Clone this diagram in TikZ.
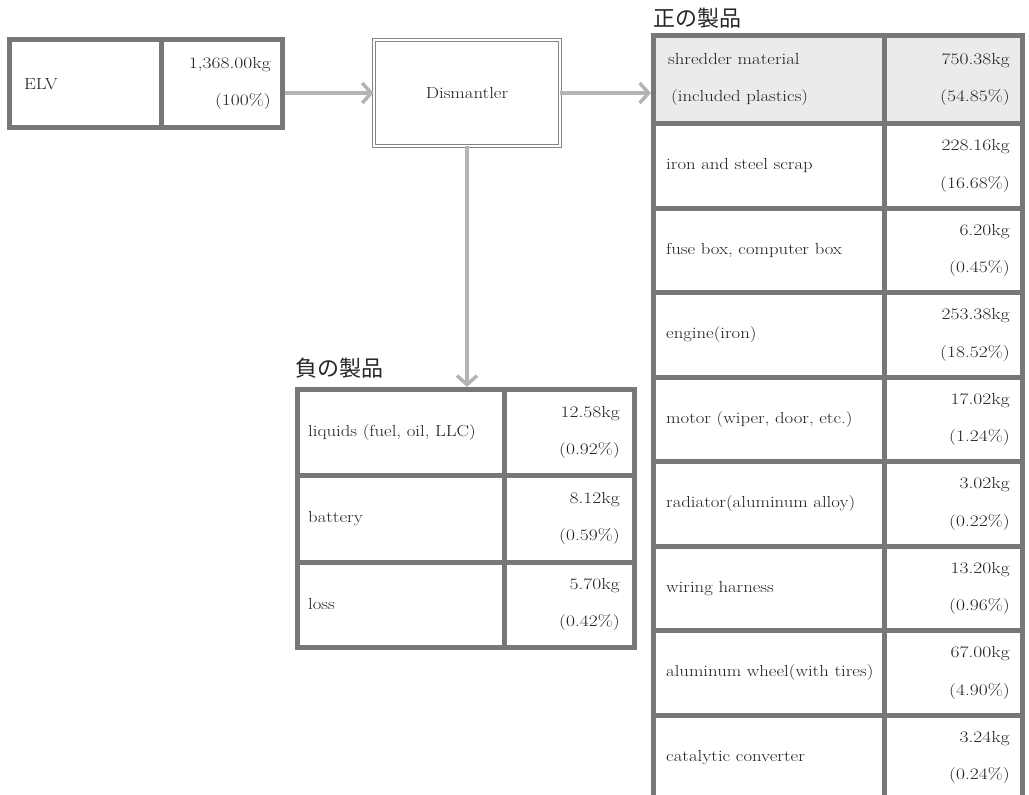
\documentclass[tikz,border=0pt]{standalone}
\usepackage{fontspec}
\setmainfont{Latin Modern Roman}[FakeStretch=1.17]
\newfontfamily\numfont{Latin Modern Roman}[FakeStretch=1.22]
\newfontfamily\jpfont{Noto Sans CJK JP}
\usetikzlibrary{arrows.meta}
\definecolor{bord}{HTML}{777777}
\definecolor{arrowc}{HTML}{B4B4B4}
\definecolor{shade}{HTML}{EBEBEB}
\definecolor{txt}{HTML}{1E1E1E}
\tikzset{
  cell/.style={draw=bord, line width=5pt, rectangle, inner sep=0pt},
  lab/.style={anchor=west, inner sep=0pt, font=\fontsize{16}{37.5}\selectfont, text=txt, align=left},
  val/.style={anchor=east, inner sep=0pt, font=\numfont\fontsize{16}{37.5}\selectfont, text=txt, align=right},
  flow/.style={draw=arrowc, line width=3.5pt, -{Straight Barb[length=9pt,width=20pt]}},
  ttl/.style={font=\jpfont\fontsize{22}{22}\selectfont, anchor=base west, inner sep=0pt, text=black!85},
  dbox/.style={draw=bord!90, line width=1.2pt, double=white, double distance=2pt, rectangle, inner sep=0pt,
    font=\fontsize{16}{18}\selectfont, text=txt}
}
\newcommand\mkcell[6]{\node[cell,#6,minimum width={#3-#2},minimum height={#5-#4}] (#1) at ({(#2+#3)/2},{(#4+#5)/2}) {};}
\begin{document}
\begin{tikzpicture}[x=1pt,y=-1pt]
\useasboundingbox (0,0) rectangle (1029,795);
% ELV
\mkcell{elvl}{9.5}{161}{39.5}{127}{}
\mkcell{elvv}{161}{282.5}{39.5}{127}{}
\node[lab] (elvt) at ([xshift=17pt,yshift=-1pt]elvl.west) {ELV};
\node[val] (elvn) at ([xshift=-14pt]elvv.east) {1,368.00kg\\(100\%)};
% Dismantler
\node[dbox, minimum width=185.6pt, minimum height=105.6pt] (dis) at (467,93) {Dismantler};
% positive products
\mkcell{p1l}{653.5}{884}{35.5}{123.5}{fill=shade}
\mkcell{p1v}{884}{1022.5}{35.5}{123.5}{fill=shade}
\node[lab] (p1t) at ([xshift=17pt]p1l.west) {shredder material\\\hspace*{3pt}(included plastics)};
\node[val] (p1n) at ([xshift=-15pt]p1v.east) {750.38kg\\(54.85\%)};
\foreach \i/\ya/\yb/\lbl/\kg/\pc in {
  2/123.5/208/{iron and steel scrap}/228.16kg/16.68,
  3/208/292.5/{fuse box, computer box}/6.20kg/0.45,
  4/292.5/377/{engine(iron)}/253.38kg/18.52,
  5/377/461.5/{motor (wiper, door, etc.)}/17.02kg/1.24,
  6/461.5/546/{radiator(aluminum alloy)}/3.02kg/0.22,
  7/546/630.5/{wiring harness}/13.20kg/0.96,
  8/630.5/715/{aluminum wheel(with tires)}/67.00kg/4.90,
  9/715/799.5/{catalytic converter}/3.24kg/0.24}{
  \mkcell{p\i l}{653.5}{884}{\ya}{\yb}{}
  \mkcell{p\i v}{884}{1022.5}{\ya}{\yb}{}
  \node[lab] (p\i t) at ([xshift=15pt]p\i l.west) {\lbl};
  \node[val] (p\i n) at ([xshift=-15pt]p\i v.east) {\kg\\(\pc\%)};
}
\node[ttl] (postitle) at (653,26) {正の製品};
% negative products
\foreach \i/\ya/\yb/\lbl/\kg/\pc in {
  1/389.5/475/{liquids (fuel, oil, LLC)}/12.58kg/0.92,
  2/475/562/{battery}/8.12kg/0.59,
  3/562/647/{loss}/5.70kg/0.42}{
  \mkcell{n\i l}{297.5}{504}{\ya}{\yb}{}
  \mkcell{n\i v}{504}{634.5}{\ya}{\yb}{}
  \node[lab] (n\i t) at ([xshift=13pt]n\i l.west) {\lbl};
  \node[val] (n\i n) at ([xshift=-17pt]n\i v.east) {\kg\\(\pc\%)};
}
\node[ttl] (negtitle) at (295,376) {負の製品};
% flows
\draw[flow] (elvv.east |- dis.center) -- (dis.west);
\draw[flow] (dis.east) -- (dis.east -| p1l.west);
\draw[flow] (dis.south) -- (dis.south |- n1l.north);
\end{tikzpicture}
\end{document}
